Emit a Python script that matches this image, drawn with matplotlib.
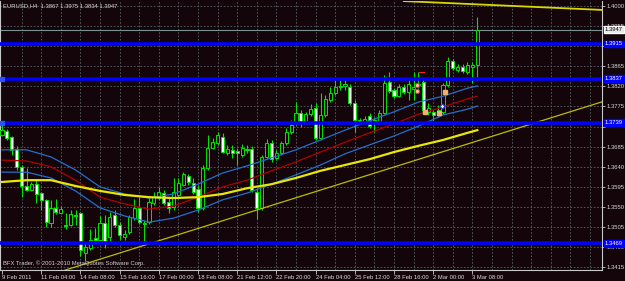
import matplotlib
matplotlib.use("Agg")
import matplotlib.pyplot as plt
from matplotlib import font_manager

# ====================================
# DATA (EURUSD H4)
# ====================================

opens = [
    1.3711, 1.3720, 1.3707, 1.3680, 1.3640, 1.3597, 1.3588, 1.3601, 1.3581, 1.3566,
    1.3514, 1.3548, 1.3537, 1.3510, 1.3510, 1.3532, 1.3537, 1.3447, 1.3458, 1.3481,
    1.3476, 1.3514, 1.3483, 1.3532, 1.3510, 1.3483, 1.3494, 1.3525, 1.3548, 1.3512,
    1.3516, 1.3559, 1.3570, 1.3581, 1.3561, 1.3550, 1.3577, 1.3599, 1.3619, 1.3604,
    1.3590, 1.3548, 1.3637, 1.3682, 1.3693, 1.3707, 1.3671, 1.3678, 1.3675, 1.3666,
    1.3680, 1.3680, 1.3584, 1.3548, 1.3662, 1.3693, 1.3660, 1.3671, 1.3693, 1.3718,
    1.3738, 1.3760, 1.3740, 1.3758, 1.3772, 1.3704, 1.3756, 1.3790, 1.3805, 1.3819,
    1.3821, 1.3819, 1.3783, 1.3745, 1.3740, 1.3754, 1.3738, 1.3740, 1.3760, 1.3830,
    1.3812, 1.3798, 1.3819, 1.3807, 1.3814, 1.3823, 1.3830, 1.3763, 1.3763, 1.3756,
    1.3763, 1.3823, 1.3877, 1.3857, 1.3863, 1.3852, 1.3863, 1.3867,
]

closes = [
    1.3722, 1.3704, 1.3678, 1.3640, 1.3597, 1.3588, 1.3601, 1.3579, 1.3566, 1.3516,
    1.3548, 1.3539, 1.3545, 1.3507, 1.3534, 1.3530, 1.3454, 1.3460, 1.3476, 1.3476,
    1.3514, 1.3472, 1.3528, 1.3510, 1.3487, 1.3490, 1.3528, 1.3548, 1.3516, 1.3514,
    1.3561, 1.3572, 1.3584, 1.3559, 1.3548, 1.3584, 1.3604, 1.3624, 1.3606, 1.3584,
    1.3548, 1.3637, 1.3682, 1.3695, 1.3711, 1.3673, 1.3680, 1.3671, 1.3671, 1.3682,
    1.3678, 1.3588, 1.3548, 1.3662, 1.3693, 1.3657, 1.3671, 1.3693, 1.3718, 1.3734,
    1.3760, 1.3740, 1.3758, 1.3769, 1.3704, 1.3756, 1.3792, 1.3805, 1.3819, 1.3821,
    1.3825, 1.3783, 1.3745, 1.3740, 1.3747, 1.3731, 1.3745, 1.3760, 1.3828, 1.3810,
    1.3798, 1.3819, 1.3807, 1.3825, 1.3819, 1.3825, 1.3767, 1.3772, 1.3756, 1.3767,
    1.3823, 1.3877, 1.3861, 1.3863, 1.3854, 1.3868, 1.3867, 1.3947,
]

highs = [
    1.3738, 1.3725, 1.3709, 1.3687, 1.3644, 1.3637, 1.3606, 1.3610, 1.3584, 1.3568,
    1.3566, 1.3568, 1.3552, 1.3537, 1.3543, 1.3543, 1.3539, 1.3469, 1.3501, 1.3503,
    1.3530, 1.3532, 1.3539, 1.3543, 1.3516, 1.3498, 1.3532, 1.3568, 1.3572, 1.3521,
    1.3570, 1.3584, 1.3595, 1.3588, 1.3570, 1.3615, 1.3615, 1.3628, 1.3624, 1.3615,
    1.3599, 1.3644, 1.3711, 1.3704, 1.3718, 1.3716, 1.3689, 1.3689, 1.3682, 1.3691,
    1.3689, 1.3687, 1.3592, 1.3666, 1.3702, 1.3700, 1.3678, 1.3698, 1.3727, 1.3745,
    1.3785, 1.3767, 1.3763, 1.3781, 1.3783, 1.3805, 1.3801, 1.3819, 1.3834, 1.3834,
    1.3834, 1.3825, 1.3790, 1.3749, 1.3754, 1.3760, 1.3751, 1.3767, 1.3846, 1.3852,
    1.3816, 1.3825, 1.3825, 1.3834, 1.3852, 1.3852, 1.3841, 1.3783, 1.3767, 1.3778,
    1.3828, 1.3886, 1.3881, 1.3870, 1.3870, 1.3875, 1.3875, 1.3975,
]

lows = [
    1.3709, 1.3700, 1.3666, 1.3633, 1.3572, 1.3586, 1.3586, 1.3559, 1.3543, 1.3505,
    1.3505, 1.3534, 1.3534, 1.3501, 1.3507, 1.3510, 1.3440, 1.3429, 1.3454, 1.3472,
    1.3474, 1.3458, 1.3472, 1.3505, 1.3476, 1.3476, 1.3490, 1.3521, 1.3512, 1.3472,
    1.3512, 1.3554, 1.3566, 1.3554, 1.3537, 1.3543, 1.3575, 1.3597, 1.3599, 1.3579,
    1.3539, 1.3543, 1.3633, 1.3680, 1.3689, 1.3671, 1.3666, 1.3660, 1.3644, 1.3662,
    1.3671, 1.3584, 1.3523, 1.3543, 1.3660, 1.3651, 1.3655, 1.3666, 1.3689, 1.3713,
    1.3734, 1.3729, 1.3736, 1.3754, 1.3700, 1.3700, 1.3751, 1.3785, 1.3801, 1.3812,
    1.3812, 1.3778, 1.3718, 1.3736, 1.3736, 1.3727, 1.3718, 1.3736, 1.3758, 1.3805,
    1.3794, 1.3796, 1.3803, 1.3790, 1.3790, 1.3816, 1.3763, 1.3756, 1.3743, 1.3751,
    1.3758, 1.3819, 1.3857, 1.3852, 1.3850, 1.3848, 1.3828, 1.3834,
]

# indicator lines, read every 5 bars
ind_idx = [0, 5, 10, 15, 20, 25, 30, 35, 40, 45, 50, 55, 60, 65, 70, 75, 80, 85, 90, 95, 97]

ma_mid = [1.3655, 1.3653, 1.3640, 1.3610, 1.3572, 1.3557, 1.3545, 1.3552, 1.3572, 1.3595,
          1.3610, 1.3631, 1.3651, 1.3673, 1.3695, 1.3716, 1.3736, 1.3758, 1.3774, 1.3792, 1.3798]
env_up = [1.3678, 1.3678, 1.3662, 1.3633, 1.3595, 1.3579, 1.3570, 1.3579, 1.3601, 1.3626,
          1.3642, 1.3660, 1.3678, 1.3700, 1.3722, 1.3743, 1.3763, 1.3785, 1.3798, 1.3816, 1.3821]
env_dn = [1.3628, 1.3628, 1.3615, 1.3586, 1.3548, 1.3530, 1.3516, 1.3525, 1.3543, 1.3566,
          1.3581, 1.3601, 1.3622, 1.3644, 1.3669, 1.3689, 1.3709, 1.3731, 1.3756, 1.3769, 1.3776]
ma_slow = [1.3606, 1.3610, 1.3610, 1.3597, 1.3586, 1.3577, 1.3572, 1.3570, 1.3572, 1.3579,
           1.3592, 1.3601, 1.3615, 1.3631, 1.3644, 1.3657, 1.3673, 1.3687, 1.3700, 1.3716, 1.3722]

# horizontal lines and trend lines
h_levels = [1.3915, 1.3837, 1.3739, 1.3469]
bid_price = 1.3947
trend_lo = ([12.4, 122.9], [1.3407, 1.3787])
trend_hi = ([82.0, 122.9], [1.4011, 1.3991])

# fractal / arrow marks
red_marks_x = [84.7, 84.7]
red_marks_y = [1.3823, 1.3810]
orange_marks_x = [86.3, 89.2, 90.4]
orange_marks_y = [1.3763, 1.3760, 1.3807]
blue_marks_x = [89.8]
blue_marks_y = [1.3776]

price_ticks = [1.4000, 1.3955, 1.3910, 1.3865, 1.3820, 1.3775, 1.3730,
               1.3685, 1.3640, 1.3595, 1.3550, 1.3505, 1.3460, 1.3415]
# these are hidden behind the level boxes
hidden_ticks = [1.3910, 1.3730]

time_idx = [0, 8, 16, 24, 32, 40, 48, 56, 64, 72, 80, 88, 96]
time_labels = ["9 Feb 2011", "11 Feb 04:00", "14 Feb 08:00", "15 Feb 16:00",
               "17 Feb 00:00", "18 Feb 08:00", "21 Feb 12:00", "22 Feb 20:00",
               "24 Feb 04:00", "25 Feb 12:00", "28 Feb 16:00", "2 Mar 00:00",
               "3 Mar 08:00"]

# ====================================
# FONT
# ====================================

font_name = "DejaVu Sans"
for name in ["Liberation Sans Narrow", "DejaVu Sans Condensed", "Liberation Sans"]:
    try:
        font_manager.findfont(name, fallback_to_default=False)
        font_name = name
        break
    except ValueError:
        pass

plt.rcParams["font.family"] = [font_name, "DejaVu Sans"]
fs = 5.0 if "Narrow" in font_name or "Condensed" in font_name else 4.2

# ====================================
# FIGURE
# ====================================

bg = "#130509"
green = "#00e400"
txt = "#dcdcdc"

fig = plt.figure(figsize=(6.25, 2.81), dpi=100, facecolor=bg)
ax = fig.add_axes([0.0, 11 / 281, 602 / 625, 269 / 281])
ax.set_facecolor(bg)

ax.set_xlim(-0.41, 122.45)
ax.set_ylim(1.34089, 1.40112)

# grid
for i in range(4, 124, 4):
    ax.axvline(i, color="#5a6068", lw=0.6, ls=(0, (2, 2)), zorder=0)
for p in price_ticks:
    ax.axhline(p, color="#5a6068", lw=0.6, ls=(0, (2, 2)), zorder=0)

# bid line
ax.axhline(bid_price, color="#7a9494", lw=0.8, zorder=1)

# ====================================
# CANDLES
# ====================================

for i in range(len(opens)):
    o, c, h, l = opens[i], closes[i], highs[i], lows[i]
    ax.vlines(i, l, h, color=green, lw=0.8, zorder=2)
    face = bg if c >= o else "#ffffff"
    ax.bar(i, abs(c - o), bottom=min(o, c), width=0.62,
           facecolor=face, edgecolor=green, lw=0.7, zorder=3)

# ====================================
# INDICATORS
# ====================================

ax.plot(ind_idx, env_up, color="#2070d0", lw=0.9, zorder=4)
ax.plot(ind_idx, env_dn, color="#2070d0", lw=0.9, zorder=4)
ax.plot(ind_idx, ma_mid, color="#b00000", lw=0.9, zorder=4)
ax.plot(ind_idx, ma_slow, color="#e8e800", lw=1.6, zorder=4)

# trend lines
ax.plot(trend_lo[0], trend_lo[1], color="#bcbc00", lw=0.9, zorder=4)
ax.plot(trend_hi[0], trend_hi[1], color="#d8d800", lw=1.3, zorder=4)

# blue levels
for p in h_levels:
    ax.axhline(p, color="#0000ff", lw=2.6, zorder=5)
ax.plot([0.1, 0.1], [h_levels[1], h_levels[2]], "s", color="#3050ff",
        ms=2.5, zorder=6, clip_on=False)

# marks
ax.plot(red_marks_x, red_marks_y, "o", mfc="#ffd0d0", mec="#ff2020",
        ms=3, mew=0.8, zorder=6)
ax.plot(orange_marks_x, orange_marks_y, "s", color="#f0b070", ms=2.2, zorder=6)
ax.plot(blue_marks_x, blue_marks_y, "D", mfc="#ffffff", mec="#2040ff",
        ms=2.5, mew=0.8, zorder=6)
ax.plot([85.2, 86.2], [1.3852, 1.3852], color="#ff2020", lw=0.8, zorder=6)

# ====================================
# AXES
# ====================================

ax.spines["top"].set_visible(False)
for side in ["right", "bottom", "left"]:
    ax.spines[side].set_color("#c8c8c8")
    ax.spines[side].set_linewidth(0.8)

ax.yaxis.tick_right()
ax.set_yticks(price_ticks,
              ["" if p in hidden_ticks else f"{p:.4f}" for p in price_ticks])
ax.tick_params(axis="y", colors="#c8c8c8", labelcolor=txt,
               length=2, width=0.6, pad=1.5, labelsize=fs)

ax.set_xticks(time_idx, time_labels)
ax.tick_params(axis="x", colors="#c8c8c8", labelcolor=txt,
               length=3, width=0.6, pad=0.8, labelsize=fs)
for lbl in ax.get_xticklabels():
    lbl.set_horizontalalignment("left")

# price boxes on the right axis
ytr = ax.get_yaxis_transform()
for p in h_levels:
    ax.text(1.005, p, f"{p:.4f}", transform=ytr, fontsize=fs, color="#ffffff",
            va="center", ha="left", zorder=10, clip_on=False,
            bbox=dict(boxstyle="square,pad=0.15", fc="#0000ff", ec="#0000ff"))
ax.text(1.005, bid_price, f"{bid_price:.4f}", transform=ytr, fontsize=fs,
        color="#000000", va="center", ha="left", zorder=10, clip_on=False,
        bbox=dict(boxstyle="square,pad=0.15", fc="#e8e8e8", ec="#ffffff"))

# texts
ax.text(0.005, 0.981, "EURUSD,H4  1.3867 1.3975 1.3834 1.3947",
        transform=ax.transAxes, fontsize=fs, color=txt,
        va="center", ha="left", zorder=10)
ax.text(0.005, 0.026, "BFX Trader, \u00a9 2001-2010 MetaQuotes Software Corp.",
        transform=ax.transAxes, fontsize=fs, color="#d0d0d0",
        va="center", ha="left", zorder=10)

plt.savefig("out.png", dpi=100, facecolor=bg)
plt.close()
